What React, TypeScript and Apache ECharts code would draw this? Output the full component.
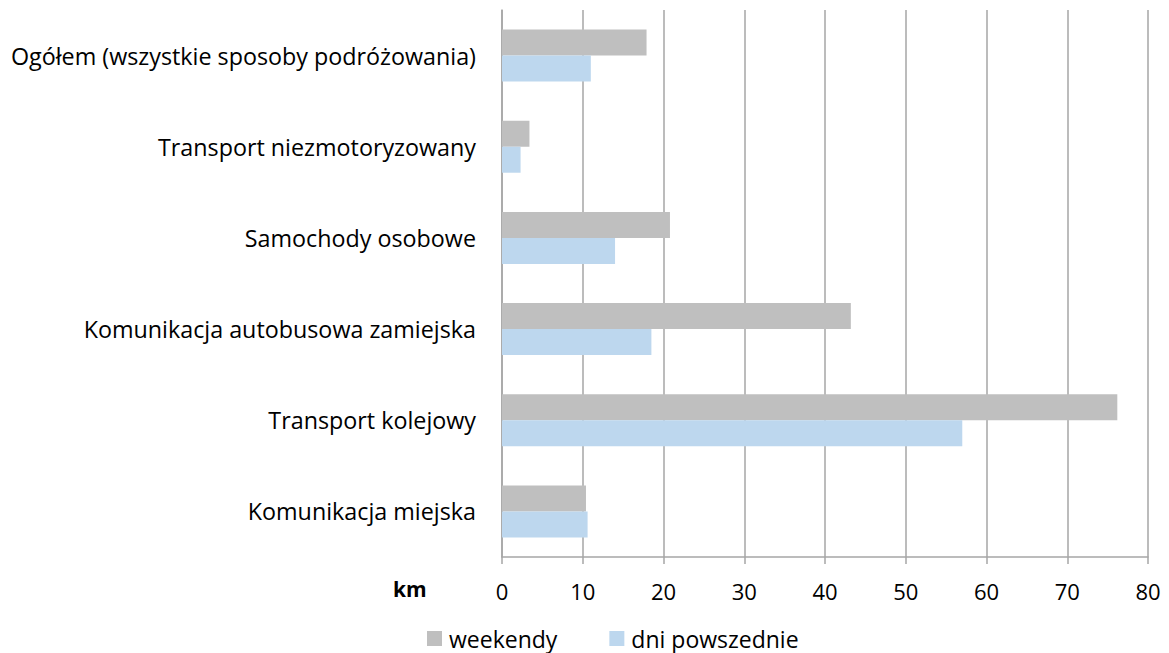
import React, { useEffect, useRef } from "react";
import * as echarts from "echarts";

const categories = [
  "Ogółem (wszystkie sposoby podróżowania)",
  "Transport niezmotoryzowany",
  "Samochody osobowe",
  "Komunikacja autobusowa zamiejska",
  "Transport kolejowy",
  "Komunikacja miejska",
];
const weekendy = [17.9, 3.4, 20.8, 43.2, 76.2, 10.4];
const dniPowszednie = [11.0, 2.3, 14.0, 18.5, 57.0, 10.6];
const seriesNames = ["weekendy", "dni powszednie"];
const xTicks = { min: 0, max: 80, interval: 10 };

const FONT = "'Open Sans', 'Noto Sans', sans-serif";

export default function App() {
  const ref = useRef<HTMLDivElement>(null);
  useEffect(() => {
    if (!ref.current) return;
    const chart = echarts.init(ref.current, undefined, { renderer: "svg" });
    chart.setOption({
      animation: false,
      textStyle: { fontFamily: FONT },
      grid: { left: 502, right: 21, top: 10, bottom: 96, containLabel: false },
      legend: {
        top: 627,
        left: 427,
        padding: 0,
        itemWidth: 15,
        itemHeight: 15,
        itemGap: 52,
        icon: "rect",
        textStyle: { fontSize: 23, color: "#000", fontFamily: FONT, padding: [0, 0, 0, 2] },
        data: seriesNames,
      },
      xAxis: {
        type: "value",
        min: xTicks.min,
        max: xTicks.max,
        interval: xTicks.interval,
        axisLine: { show: true, lineStyle: { color: "#a6a6a6", width: 1.5 } },
        axisTick: { show: true, length: 7, lineStyle: { color: "#a6a6a6", width: 1.5 } },
        splitLine: { show: true, lineStyle: { color: "#a6a6a6", width: 1.5 } },
        axisLabel: { fontSize: 22, color: "#000", margin: 23, fontFamily: FONT },
      },
      yAxis: {
        type: "category",
        inverse: true,
        data: categories,
        axisLine: { show: true, lineStyle: { color: "#a6a6a6", width: 1.5 } },
        axisTick: { show: false },
        axisLabel: { fontSize: 23.3, color: "#000", margin: 26, fontFamily: FONT },
      },
      graphic: [
        {
          type: "text",
          left: 393,
          top: 578,
          style: { text: "km", fontSize: 21, fontWeight: "bold", fill: "#000", fontFamily: FONT },
        },
      ],
      series: [
        {
          name: seriesNames[0],
          type: "bar",
          data: weekendy,
          itemStyle: { color: "#bfbfbf" },
          barGap: "0%",
          barCategoryGap: "43%",
        },
        {
          name: seriesNames[1],
          type: "bar",
          data: dniPowszednie,
          itemStyle: { color: "#bdd7ee" },
          barGap: "0%",
          barCategoryGap: "43%",
        },
      ],
    });
    return () => chart.dispose();
  }, []);
  return <div ref={ref} style={{ width: 1169, height: 653, position: "absolute", left: 0, top: 0 }} />;
}
